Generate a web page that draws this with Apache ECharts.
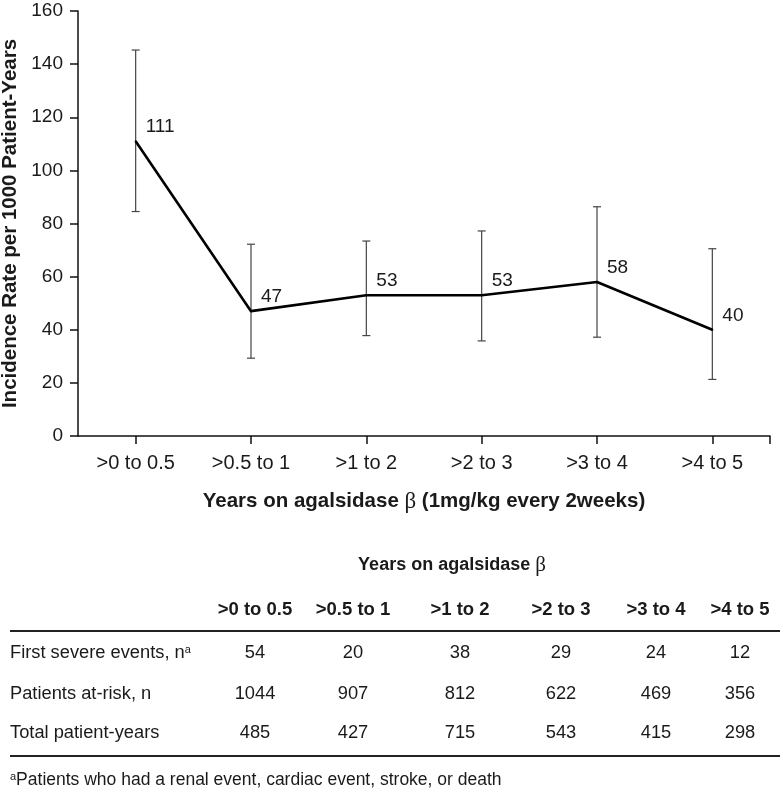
<!DOCTYPE html>
<html>
<head>
<meta charset="utf-8">
<script src="https://cdn.jsdelivr.net/npm/echarts@6/dist/echarts.min.js"></script>
<style>
html,body{margin:0;padding:0;background:#fff;}
#chart{width:780px;height:792px;}
</style>
</head>
<body>
<div id="chart"></div>
<script>
// ---- data ----
const categories = ['>0 to 0.5', '>0.5 to 1', '>1 to 2', '>2 to 3', '>3 to 4', '>4 to 5'];
const incidence = [111, 47, 53, 53, 58, 40];
const ciLower = [84.5, 29.3, 37.8, 35.8, 37.2, 21.3];
const ciUpper = [145.3, 72.2, 73.4, 77.2, 86.3, 70.5];
const yAxisName = 'Incidence Rate per 1000 Patient-Years';
const xAxisName = 'Years on agalsidase ';
const tableTitle = 'Years on agalsidase ';
const rowLabels = ['First severe events, n', 'Patients at-risk, n', 'Total patient-years'];
const firstSevereEvents = [54, 20, 38, 29, 24, 12];
const patientsAtRisk = [1044, 907, 812, 622, 469, 356];
const totalPatientYears = [485, 427, 715, 543, 415, 298];
const footnote = 'Patients who had a renal event, cardiac event, stroke, or death';

// ---- layout (styling only) ----
const FONT = '"Liberation Sans", Arial, Helvetica, sans-serif';
const SERIF = '"Liberation Serif", "DejaVu Serif", serif';
const TXT = '#1a1a1a';
const colX = [255, 353, 460, 561, 656, 740];
const rowY = [653, 694, 733];
const tableRows = [firstSevereEvents, patientsAtRisk, totalPatientYears];

const chart = echarts.init(document.getElementById('chart'));

const graphics = [];
// table title
graphics.push({
  type: 'text', x: 452, y: 565,
  style: {
    text: tableTitle + '{b|β}',
    font: 'bold 18px ' + FONT, fill: TXT, align: 'center', verticalAlign: 'middle',
    rich: { b: { fontFamily: SERIF, fontWeight: 'normal', fontSize: 21, fill: TXT } }
  }
});
// column headers
categories.forEach((c, i) => {
  graphics.push({
    type: 'text', x: colX[i], y: 610,
    style: { text: c, font: 'bold 18.5px ' + FONT, fill: TXT, align: 'center', verticalAlign: 'middle' }
  });
});
// rules
graphics.push({ type: 'line', shape: { x1: 10, y1: 631, x2: 780, y2: 631 }, style: { stroke: '#222', lineWidth: 2 } });
graphics.push({ type: 'line', shape: { x1: 10, y1: 756, x2: 780, y2: 756 }, style: { stroke: '#222', lineWidth: 2 } });
// rows
rowLabels.forEach((lab, r) => {
  graphics.push({
    type: 'text', x: 10, y: rowY[r],
    style: {
      text: r === 0 ? lab + '{s|a}' : lab,
      font: '18.3px ' + FONT, fill: TXT, align: 'left', verticalAlign: 'middle',
      rich: { s: { fontSize: 11, fontFamily: FONT, verticalAlign: 'top', fill: TXT } }
    }
  });
  tableRows[r].forEach((v, i) => {
    graphics.push({
      type: 'text', x: colX[i], y: rowY[r],
      style: { text: String(v), font: '18.3px ' + FONT, fill: TXT, align: 'center', verticalAlign: 'middle' }
    });
  });
});
// footnote
graphics.push({
  type: 'text', x: 10, y: 780,
  style: {
    text: '{s|a}' + footnote,
    font: '17.5px ' + FONT, fill: TXT, align: 'left', verticalAlign: 'middle',
    rich: { s: { fontSize: 11, fontFamily: FONT, verticalAlign: 'top', fill: TXT } }
  }
});

const option = {
  backgroundColor: '#fff',
  animation: false,
  textStyle: { fontFamily: FONT },
  grid: { left: 78, right: 10, top: 11, bottom: 356, containLabel: false, outerBoundsMode: 'none' },
  xAxis: {
    type: 'category',
    data: categories,
    boundaryGap: true,
    name: xAxisName + '{b|β}{n| (1mg/kg every 2weeks)}',
    nameLocation: 'middle',
    nameGap: 54,
    nameTextStyle: {
      fontFamily: FONT, fontSize: 20.5, fontWeight: 'bold', color: TXT,
      rich: {
        b: { fontFamily: SERIF, fontWeight: 'normal', fontSize: 23, color: TXT },
        n: { fontFamily: FONT, fontSize: 20.5, fontWeight: 'bold', color: TXT }
      }
    },
    axisLine: { show: true, lineStyle: { color: '#111', width: 1.5 } },
    axisTick: { show: true, alignWithLabel: true, length: 8, lineStyle: { color: '#111', width: 1.5 } },
    axisLabel: { fontSize: 20, color: TXT, margin: 17, fontFamily: FONT },
    splitLine: { show: false }
  },
  yAxis: {
    type: 'value',
    min: 0, max: 160, interval: 20,
    name: yAxisName,
    nameLocation: 'middle',
    nameGap: 56,
    nameRotate: 90,
    nameTextStyle: { fontFamily: FONT, fontSize: 20.5, fontWeight: 'bold', color: TXT },
    axisLine: { show: true, lineStyle: { color: '#111', width: 1.5 } },
    axisTick: { show: true, length: 8, lineStyle: { color: '#111', width: 1.5 } },
    axisLabel: { fontSize: 19, color: TXT, margin: 15, fontFamily: FONT },
    splitLine: { show: false }
  },
  series: [
    {
      type: 'custom',
      z: 2,
      data: categories.map((c, i) => [i, ciLower[i], ciUpper[i]]),
      encode: { x: 0, y: [1, 2] },
      renderItem: function (params, api) {
        const lo = api.coord([api.value(0), api.value(1)]);
        const hi = api.coord([api.value(0), api.value(2)]);
        const hw = 4;
        const st = { stroke: '#444', lineWidth: 1.2 };
        const children = [
          { type: 'line', shape: { x1: lo[0], y1: lo[1], x2: hi[0], y2: hi[1] }, style: st },
          { type: 'line', shape: { x1: lo[0] - hw, y1: lo[1], x2: lo[0] + hw, y2: lo[1] }, style: st },
          { type: 'line', shape: { x1: hi[0] - hw, y1: hi[1], x2: hi[0] + hw, y2: hi[1] }, style: st }
        ];
        if (params.dataIndex === categories.length - 1) {
          const cs = params.coordSys;
          const ex = cs.x + cs.width, ey = cs.y + cs.height;
          children.push({ type: 'line', shape: { x1: ex, y1: ey, x2: ex, y2: ey + 8 }, style: { stroke: '#111', lineWidth: 1.5 } });
        }
        return { type: 'group', children: children };
      }
    },
    {
      type: 'line',
      z: 3,
      data: incidence,
      symbol: 'circle',
      symbolSize: 2,
      showSymbol: true,
      lineStyle: { color: '#000', width: 2.6 },
      itemStyle: { color: '#000' },
      label: {
        show: true,
        position: 'right',
        offset: [4, -14],
        fontSize: 19,
        color: TXT,
        fontFamily: FONT
      },
      emphasis: { disabled: true }
    }
  ],
  graphic: graphics
};
chart.setOption(option);
</script>
</body>
</html>
